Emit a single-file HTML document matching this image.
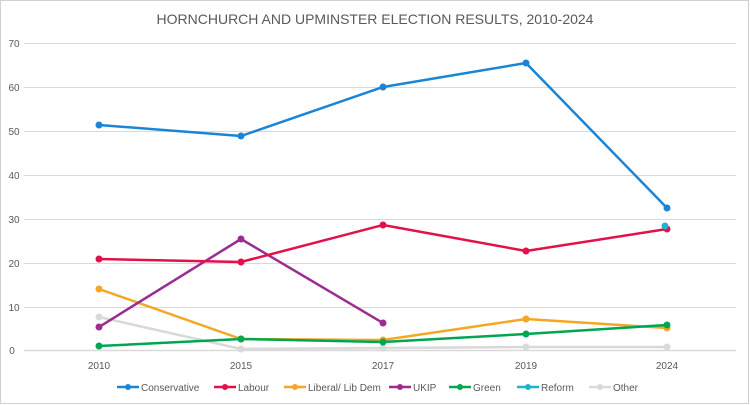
<!DOCTYPE html>
<html><head><meta charset="utf-8"><style>
body{margin:0;background:#fff}
svg{display:block;font-family:"Liberation Sans",sans-serif}
</style></head><body>
<svg width="750" height="405" viewBox="0 0 750 405" xmlns="http://www.w3.org/2000/svg">
<rect x="0.5" y="0.5" width="748" height="403" fill="#fff" stroke="#d0d0d0"/>
<text x="375" y="24" text-anchor="middle" font-size="14" fill="#595959">HORNCHURCH AND UPMINSTER ELECTION RESULTS, 2010-2024</text>
<g stroke="#d9d9d9" stroke-width="1">
<line x1="24" x2="736" y1="43.5" y2="43.5"/><line x1="24" x2="736" y1="87.5" y2="87.5"/>
<line x1="24" x2="736" y1="131.5" y2="131.5"/><line x1="24" x2="736" y1="175.5" y2="175.5"/>
<line x1="24" x2="736" y1="219.5" y2="219.5"/><line x1="24" x2="736" y1="263.5" y2="263.5"/>
<line x1="24" x2="736" y1="307.5" y2="307.5"/><line x1="24" x2="736" y1="350.5" y2="350.5" stroke-width="1.5"/>
</g>
<g font-size="10" fill="#595959" text-anchor="middle">
<text x="14" y="47">70</text><text x="14" y="91">60</text><text x="14" y="135">50</text><text x="14" y="179">40</text>
<text x="14" y="223">30</text><text x="14" y="267">20</text><text x="14" y="311">10</text><text x="12" y="354">0</text>
<text x="99" y="369">2010</text><text x="241" y="369">2015</text><text x="383" y="369">2017</text><text x="526" y="369">2019</text><text x="667" y="369">2024</text>
</g>
<g fill="none" stroke-width="2.5" stroke-linejoin="round">
<polyline stroke="#d9d9d9" points="99,317 241,349 383,348 526,347 667,347"/>
<polyline stroke="#f5a623" points="99,289 241,339 383,340 526,319 667,328"/>
<polyline stroke="#00a651" points="99,346 241,339 383,342 526,334 667,325"/>
<polyline stroke="#9b2d8f" points="99,327 241,239 383,323"/>
<polyline stroke="#e2104b" points="99,259 241,262 383,225 526,251 667,229"/>
<polyline stroke="#1a85d6" points="99,125 241,136 383,87 526,63 667,208"/>
</g>
<g>
<g fill="#d9d9d9"><circle cx="99" cy="317" r="3.5"/><circle cx="241" cy="349" r="3.5"/><circle cx="383" cy="348" r="3.5"/><circle cx="526" cy="347" r="3.5"/><circle cx="667" cy="347" r="3.5"/></g>
<g fill="#f5a623"><circle cx="99" cy="289" r="3.5"/><circle cx="241" cy="339" r="3.5"/><circle cx="383" cy="340" r="3.5"/><circle cx="526" cy="319" r="3.5"/><circle cx="667" cy="328" r="3.5"/></g>
<g fill="#00a651"><circle cx="99" cy="346" r="3.5"/><circle cx="241" cy="339" r="3.5"/><circle cx="383" cy="342" r="3.5"/><circle cx="526" cy="334" r="3.5"/><circle cx="667" cy="325" r="3.5"/></g>
<g fill="#9b2d8f"><circle cx="99" cy="327" r="3.5"/><circle cx="241" cy="239" r="3.5"/><circle cx="383" cy="323" r="3.5"/></g>
<g fill="#e2104b"><circle cx="99" cy="259" r="3.5"/><circle cx="241" cy="262" r="3.5"/><circle cx="383" cy="225" r="3.5"/><circle cx="526" cy="251" r="3.5"/><circle cx="667" cy="229" r="3.5"/></g>
<circle cx="665" cy="226" r="3.5" fill="#1fb5d0"/>
<g fill="#1a85d6"><circle cx="99" cy="125" r="3.5"/><circle cx="241" cy="136" r="3.5"/><circle cx="383" cy="87" r="3.5"/><circle cx="526" cy="63" r="3.5"/><circle cx="667" cy="208" r="3.5"/></g>
</g>
<g font-size="10" fill="#595959" stroke-width="2.5">
<line x1="117" x2="139" y1="387" y2="387" stroke="#1a85d6"/><circle cx="128" cy="387" r="3" fill="#1a85d6"/><text x="141" y="391">Conservative</text>
<line x1="214" x2="236" y1="387" y2="387" stroke="#e2104b"/><circle cx="225" cy="387" r="3" fill="#e2104b"/><text x="238" y="391">Labour</text>
<line x1="284" x2="306" y1="387" y2="387" stroke="#f5a623"/><circle cx="295" cy="387" r="3" fill="#f5a623"/><text x="308" y="391">Liberal/ Lib  Dem</text>
<line x1="389" x2="411" y1="387" y2="387" stroke="#9b2d8f"/><circle cx="400" cy="387" r="3" fill="#9b2d8f"/><text x="413" y="391">UKIP</text>
<line x1="449" x2="471" y1="387" y2="387" stroke="#00a651"/><circle cx="460" cy="387" r="3" fill="#00a651"/><text x="473" y="391">Green</text>
<line x1="517" x2="539" y1="387" y2="387" stroke="#1fb5d0"/><circle cx="528" cy="387" r="3" fill="#1fb5d0"/><text x="541" y="391">Reform</text>
<line x1="589" x2="611" y1="387" y2="387" stroke="#d9d9d9"/><circle cx="600" cy="387" r="3" fill="#d9d9d9"/><text x="613" y="391">Other</text>
</g>
</svg>
</body></html>
